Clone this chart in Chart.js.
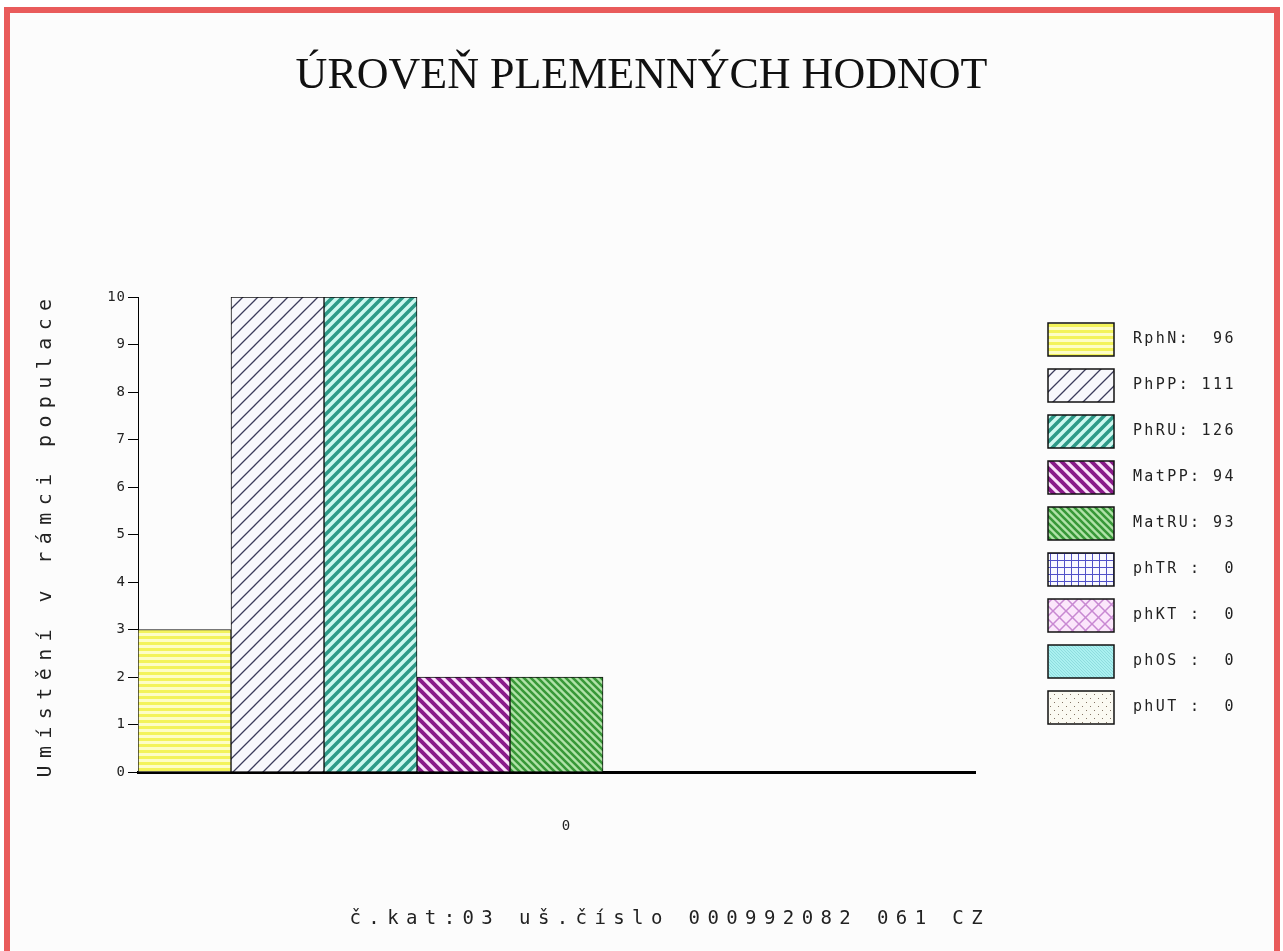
<!DOCTYPE html>
<html>
<head>
<meta charset="utf-8">
<title>Úroveň plemenných hodnot</title>
<script src="https://cdn.jsdelivr.net/npm/chart.js@4.4.1/dist/chart.umd.min.js"></script>
<style>
  html, body { margin: 0; padding: 0; background: #fff; }
  body { width: 1283px; height: 951px; position: relative; overflow: hidden; }
  .frame {
    position: absolute; left: 4px; top: 7px;
    width: 1264px; height: 960px;
    border: 6px solid #e95b5b; background: #fcfcfc;
  }
  #chart { position: absolute; left: 0; top: 0; }
</style>
</head>
<body>
<div class="frame"></div>
<canvas id="chart" width="1283" height="951"></canvas>
<script>
const TITLE = 'ÚROVEŇ PLEMENNÝCH HODNOT';
const Y_TITLE = 'Umístění v rámci populace';
const FOOTER = 'č.kat:03 uš.číslo 000992082 061 CZ';

const CATEGORIES = ['0'];
const SERIES = ['RphN', 'PhPP', 'PhRU', 'MatPP', 'MatRU', 'phTR', 'phKT', 'phOS', 'phUT'];
const LEGEND_KEYS = ['RphN:', 'PhPP:', 'PhRU:', 'MatPP:', 'MatRU:', 'phTR :', 'phKT :', 'phOS :', 'phUT :'];
const BREEDING_VALUES = [96, 111, 126, 94, 93, 0, 0, 0, 0];
const RANKS = [3, 10, 10, 2, 2, 0, 0, 0, 0];
const Y_MIN = 0;
const Y_MAX = 10;

const MONO = '"DejaVu Sans Mono", "Liberation Mono", monospace';

const canvas = document.getElementById('chart');
const ctx = canvas.getContext('2d');

// the old pixel font is widely spaced, so add letter spacing by font size
const LETTER_SPACING = { 14: 1, 15: 2.4, 19: 7.4, 20: 7.4 };
function spacingFor(font) {
    const m = /(\d+(?:\.\d+)?)px/.exec(font);
    return LETTER_SPACING[m ? +m[1] : 0] || 0;
}
ctx.fillText = function (...args) {
    this.letterSpacing = spacingFor(this.font) + 'px';
    return CanvasRenderingContext2D.prototype.fillText.apply(this, args);
};
ctx.measureText = function (text) {
    const sp = spacingFor(this.font);
    this.letterSpacing = '0px';
    const m = CanvasRenderingContext2D.prototype.measureText.call(this, text);
    const extra = sp * String(text).length;
    return {
        width: m.width + extra,
        actualBoundingBoxAscent: m.actualBoundingBoxAscent,
        actualBoundingBoxDescent: m.actualBoundingBoxDescent,
        actualBoundingBoxLeft: m.actualBoundingBoxLeft,
        actualBoundingBoxRight: m.actualBoundingBoxRight + extra
    };
};

// Hatch patterns
function tile(size, bg, draw) {
    const c = document.createElement('canvas');
    c.width = size;
    c.height = size;
    const g = c.getContext('2d');
    g.fillStyle = bg;
    g.fillRect(0, 0, size, size);
    draw(g, size);
    return ctx.createPattern(c, 'repeat');
}

function slash(g, s, color, w) {
    g.strokeStyle = color;
    g.lineWidth = w;
    g.beginPath();
    g.moveTo(0, s); g.lineTo(s, 0);
    g.moveTo(-s / 2, s / 2); g.lineTo(s / 2, -s / 2);
    g.moveTo(s / 2, 1.5 * s); g.lineTo(1.5 * s, s / 2);
    g.stroke();
}

function backslash(g, s, color, w) {
    g.strokeStyle = color;
    g.lineWidth = w;
    g.beginPath();
    g.moveTo(0, 0); g.lineTo(s, s);
    g.moveTo(-s / 2, s / 2); g.lineTo(s / 2, 1.5 * s);
    g.moveTo(s / 2, -s / 2); g.lineTo(1.5 * s, s / 2);
    g.stroke();
}

const PATTERNS = [
    tile(6, '#fdfdc6', (g) => { g.fillStyle = '#f3f35a'; g.fillRect(0, 0, 6, 3); }),
    tile(15, '#f8f8fc', (g, s) => slash(g, s, '#3c3c5c', 1.3)),
    tile(10, '#cff8f0', (g, s) => slash(g, s, '#2e9a88', 3.6)),
    tile(10, '#fbe2fb', (g, s) => backslash(g, s, '#8a1a8a', 4)),
    tile(7, '#b0e2a8', (g, s) => backslash(g, s, '#389838', 2.6)),
    tile(7, '#f8f8ff', (g, s) => { g.fillStyle = '#5050c8'; g.fillRect(0, 0, s, 1); g.fillRect(0, 0, 1, s); }),
    tile(13, '#fbe6fb', (g, s) => { slash(g, s, '#c888d2', 1.5); backslash(g, s, '#c888d2', 1.5); }),
    tile(3, '#aaf0f0', (g, s) => backslash(g, s, '#8edcde', 1)),
    tile(8, '#fbfaf2', (g) => { g.fillStyle = '#857565'; g.fillRect(2, 2, 1, 1); g.fillRect(6, 6, 1, 1); })
];

new Chart(canvas, {
    type: 'bar',
    data: {
        labels: CATEGORIES,
        datasets: SERIES.map((name, i) => ({
            label: name,
            data: [RANKS[i]],
            backgroundColor: PATTERNS[i],
            borderColor: '#111',
            borderWidth: 1,
            categoryPercentage: 1,
            barPercentage: 1
        }))
    },
    options: {
        responsive: false,
        animation: false,
        layout: { padding: 0 },
        plugins: {
            title: {
                display: true,
                text: TITLE,
                color: '#111',
                font: { family: '"Liberation Serif", serif', size: 44, weight: 'normal', lineHeight: 1.2 },
                padding: { top: 49.6, bottom: 194.6 }
            },
            subtitle: {
                display: true,
                position: 'bottom',
                text: '   ' + FOOTER,
                color: '#222',
                font: { family: MONO, size: 19, weight: 'normal', lineHeight: 1.2 },
                padding: { top: 10, bottom: 21 }
            },
            legend: {
                position: 'right',
                align: 'start',
                fullSize: false,
                maxWidth: 248,
                title: { display: true, text: '', font: { size: 10, lineHeight: 1 }, padding: 1.5 },
                labels: {
                    boxWidth: 66,
                    boxHeight: 33,
                    padding: 13,
                    color: '#222',
                    font: { family: MONO, size: 15 },
                    generateLabels: (chart) => chart.data.datasets.map((ds, i) => ({
                        text: ' ' + LEGEND_KEYS[i] + String(BREEDING_VALUES[i]).padStart(9 - LEGEND_KEYS[i].length) + '     ',
                        fillStyle: ds.backgroundColor,
                        strokeStyle: '#111',
                        lineWidth: 1.5,
                        fontColor: '#222',
                        datasetIndex: i
                    }))
                }
            },
            tooltip: { enabled: false }
        },
        scales: {
            x: {
                grid: { display: false, drawTicks: false },
                border: { display: true, color: '#000', width: 3 },
                ticks: { padding: 45.6, labelOffset: 10, color: '#222', font: { family: MONO, size: 14 } },
                afterFit: (s) => { s.height = 125.2; }
            },
            y: {
                min: Y_MIN,
                max: Y_MAX,
                ticks: { stepSize: 1, padding: 2, color: '#222', font: { family: MONO, size: 14 } },
                grid: { display: true, drawOnChartArea: false, drawTicks: true, tickLength: 10, color: '#000' },
                border: { display: true, color: '#000', width: 1 },
                title: {
                    display: true,
                    text: Y_TITLE,
                    color: '#222',
                    font: { family: MONO, size: 20 },
                    padding: { top: 34, bottom: 0 }
                },
                afterFit: (s) => { s.width = 138; }
            },
            gap: {
                position: 'right',
                grid: { display: false, drawTicks: false },
                border: { display: false },
                ticks: { display: false },
                afterFit: (s) => { s.width = 60; }
            }
        }
    }
});
</script>
</body>
</html>
